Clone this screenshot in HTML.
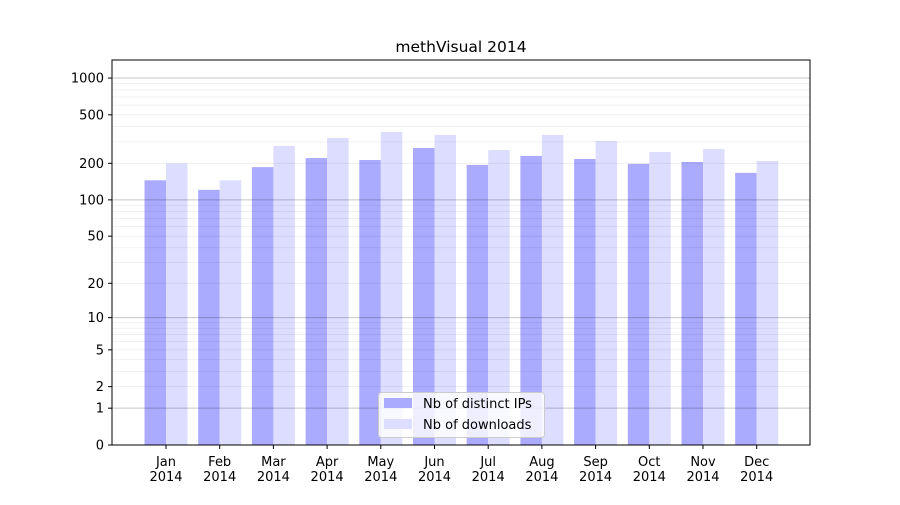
<!DOCTYPE html>
<html><head><meta charset="utf-8"><style>
html,body{margin:0;padding:0;background:#fff;}
svg text{font-family:"DejaVu Sans","Liberation Sans",sans-serif;font-size:13px;fill:#000;}
</style></head><body>
<svg id="s" width="900" height="500" xmlns="http://www.w3.org/2000/svg"></svg>
<script>
const s=document.getElementById('s');
let h='';
const Y=v=>445-122.3*Math.log10(1+v);
const ips=[145,121,186,221,213,267,194,230,217,198,205,167];
const dl=[200,145,278,323,362,342,257,342,305,248,262,209];
const mon=['Jan','Feb','Mar','Apr','May','Jun','Jul','Aug','Sep','Oct','Nov','Dec'];
for(let i=0;i<12;i++){
  const c=166+i*53.7;
  h+=`<rect x="${c-21.5}" y="${Y(ips[i])}" width="21.5" height="${445-Y(ips[i])}" fill="#aaaaff"/>`;
  h+=`<rect x="${c}" y="${Y(dl[i])}" width="21.5" height="${445-Y(dl[i])}" fill="#ddddff"/>`;
  h+=`<line x1="${c}" x2="${c}" y1="445" y2="449" stroke="#000"/>`;
  h+=`<text x="${c}" y="466" text-anchor="middle">${mon[i]}</text><text x="${c}" y="481" text-anchor="middle">2014</text>`;
}
for(const d of [1,10,100,1000]){
  for(let m=1;m<10;m++){const v=d*m; if(v>1400)continue; const y=Y(v);
    h+=`<line x1="112" x2="810" y1="${y}" y2="${y}" stroke="#000" stroke-opacity="${m==1?0.22:0.07}" stroke-width="${m==1?1:0.8}"/>`;}
}
for(const v of [0,1,2,5,10,20,50,100,200,500,1000]){const y=Y(v);
  h+=`<line x1="108" x2="112" y1="${y}" y2="${y}" stroke="#000"/><text x="104" y="${y+4.5}" text-anchor="end">${v}</text>`;}
h+=`<rect x="112" y="60" width="698" height="385" fill="none" stroke="#000"/>`;
h+=`<text x="461" y="52" text-anchor="middle" style="font-size:15.5px">methVisual 2014</text>`;
h+=`<rect x="378.5" y="392.5" width="166" height="45" rx="3" fill="#fff" fill-opacity="0.8" stroke="#ccc"/>`;
h+=`<rect x="384" y="398" width="28" height="10" fill="#aaaaff"/><text x="423" y="408">Nb of distinct IPs</text>`;
h+=`<rect x="384" y="419" width="28" height="10" fill="#ddddff"/><text x="423" y="429">Nb of downloads</text>`;
s.innerHTML=h;
</script>
</body></html>
